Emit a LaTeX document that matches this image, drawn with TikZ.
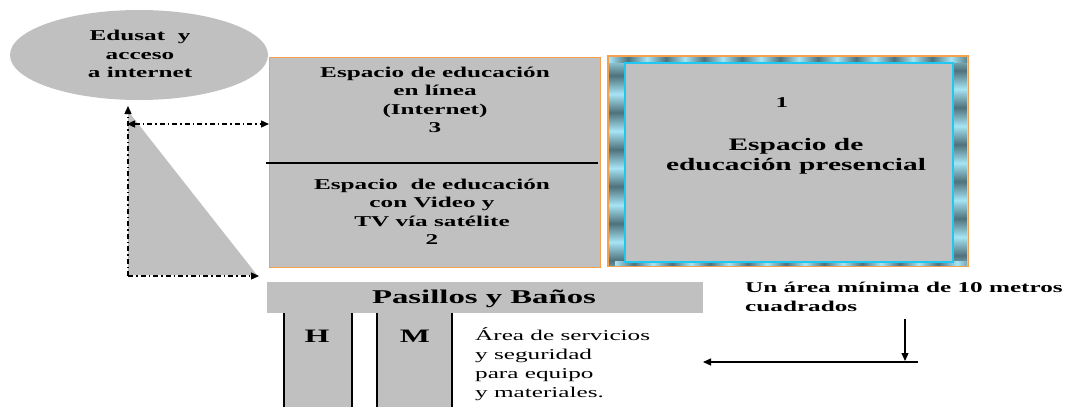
\documentclass[tikz,border=0pt]{standalone}
\usepackage{fontspec}
\setmainfont{Liberation Serif}[FakeStretch=1.68]
\usetikzlibrary{arrows.meta,shapes.geometric}
\definecolor{boxgray}{HTML}{C0C0C0}
\definecolor{orangeb}{HTML}{F4A04C}
\definecolor{cyanb}{HTML}{1EC8F0}
\definecolor{framedark}{HTML}{4E727C}
\definecolor{framelight}{HTML}{A6E4F4}
\tikzset{
  btxt/.style={font=\bfseries\fontsize{15}{18.5}\selectfont, align=center, inner sep=0pt},
  rtxt/.style={font=\fontsize{15}{19}\selectfont, align=left, inner sep=0pt, anchor=west},
  ddash/.style={line width=1.3pt, dash pattern=on 5pt off 3pt on 1.5pt off 3pt},
  tip/.style={-{Triangle[length=8pt,width=7pt]}},
  colbox/.style={fill=boxgray, inner sep=0pt, anchor=north west, minimum height=94pt},
  frameseg/.style={top color=framelight, bottom color=framelight, middle color=framedark},
  frameh/.style={left color=framelight, right color=framelight, middle color=framedark}
}
\begin{document}
\begin{tikzpicture}[x=1pt,y=-1pt]
\useasboundingbox (0,0) rectangle (1073,407);

% ellipse
\node[ellipse, fill=boxgray, minimum width=258pt, minimum height=90pt, inner sep=0pt] (edusat) at (139,55) {};
\node[btxt] (edusattxt) at (140,54) {Edusat\ \ y\\acceso\\a internet};

% triangle
\fill[boxgray] (128,111) -- (257,275) -- (128,275) -- cycle;

% left box
\node[draw=orangeb, line width=1.3pt, fill=boxgray, minimum width=331pt, minimum height=210pt, inner sep=0pt, anchor=north west] (leftbox) at (269,57) {};
\coordinate (divl) at (266,163);
\coordinate (divr) at (598,163);
\draw[line width=1.2pt] (divl) -- (divr);
\node[btxt] (t3) at (435,100) {Espacio de educación\\en línea\\(Internet)\\3};
\node[btxt] (t2) at (432,212) {Espacio\ \ de educación\\con Video y\\TV vía satélite\\2};

% arrows around the triangle
\coordinate (tl) at (128,106);
\coordinate (bl) at (128,276);
\coordinate (br) at (259,276);
\coordinate (hl) at (127,124);
\draw[ddash, tip] (bl) -- (tl);
\draw[ddash, tip] (bl) -- (br);
\draw[ddash, {Triangle[length=8pt,width=7pt]}-{Triangle[length=8pt,width=7pt]}] (hl) -- (hl -| leftbox.west);

% box 1 with patterned frame
\node[fill=framelight, minimum width=360pt, minimum height=210pt, inner sep=0pt, anchor=north west] (box1) at (608,56) {};
\begin{scope}
  \clip (609,57) rectangle (624,265);
  \foreach \k in {0,...,5} \shade[frameseg] (609,57+37*\k) rectangle (624,57+37*\k+37);
\end{scope}
\begin{scope}
  \clip (952,57) rectangle (967,265);
  \foreach \k in {0,...,5} \shade[frameseg] (952,52+37*\k) rectangle (967,52+37*\k+37);
\end{scope}
\begin{scope}
  \clip (609,57) rectangle (967,62);
  \foreach \k in {0,...,9} \shade[frameh] (609+38*\k,57) rectangle (609+38*\k+38,62);
\end{scope}
\begin{scope}
  \clip (609,261) rectangle (967,265);
  \foreach \k in {0,...,9} \shade[frameh] (615+38*\k,261) rectangle (615+38*\k+38,265);
\end{scope}
\draw[orangeb, line width=1.3pt] (box1.north west) rectangle (box1.south east);
\node[fill=boxgray, draw=cyanb, line width=1.5pt, minimum width=328pt, minimum height=199pt, inner sep=0pt, anchor=north west] (inner1) at (624,62) {};
\node[btxt] (t1num) at (782,103) {1};
\node[font=\bfseries\fontsize{17.5}{20}\selectfont, align=center, inner sep=0pt] (t1) at (796,156) {Espacio de\\educación presencial};

% pasillos
\node[fill=boxgray, minimum width=436pt, minimum height=31pt, inner sep=0pt, anchor=north west] (pasillos) at (267,282) {};
\node[font=\bfseries\fontsize{19.5}{22}\selectfont, inner sep=0pt] (pastxt) at (484,299) {Pasillos y Baños};

% H and M columns
\node[colbox, minimum width=68pt] (hcol) at (284,313) {};
\node[colbox, minimum width=75pt] (mcol) at (377,313) {};
\draw[line width=2pt] (hcol.north west) -- (hcol.south west);
\draw[line width=2pt] (hcol.north east) -- (hcol.south east);
\draw[line width=2pt] (mcol.north west) -- (mcol.south west);
\draw[line width=2pt] (mcol.north east) -- (mcol.south east);
\node[font=\bfseries\fontsize{19}{22}\selectfont, inner sep=0pt] (htxt) at (317,336) {H};
\node[font=\bfseries\fontsize{19}{22}\selectfont, inner sep=0pt] (mtxt) at (415,336) {M};

\node[rtxt] (servicios) at (475,364) {Área de servicios\\y seguridad\\para equipo\\y materiales.};

% area note
\node[btxt, align=left, anchor=west, font=\bfseries\fontsize{15}{19}\selectfont] (area) at (745,297) {Un área mínima de 10 metros\\cuadrados};
\coordinate (va) at (905,319);
\coordinate (vb) at (905,361);
\coordinate (hr) at (918,362);
\coordinate (hl2) at (703,362);
\draw[line width=1.2pt, tip] (va) -- (vb);
\draw[line width=1.2pt, tip] (hr) -- (hl2);
\end{tikzpicture}
\end{document}
